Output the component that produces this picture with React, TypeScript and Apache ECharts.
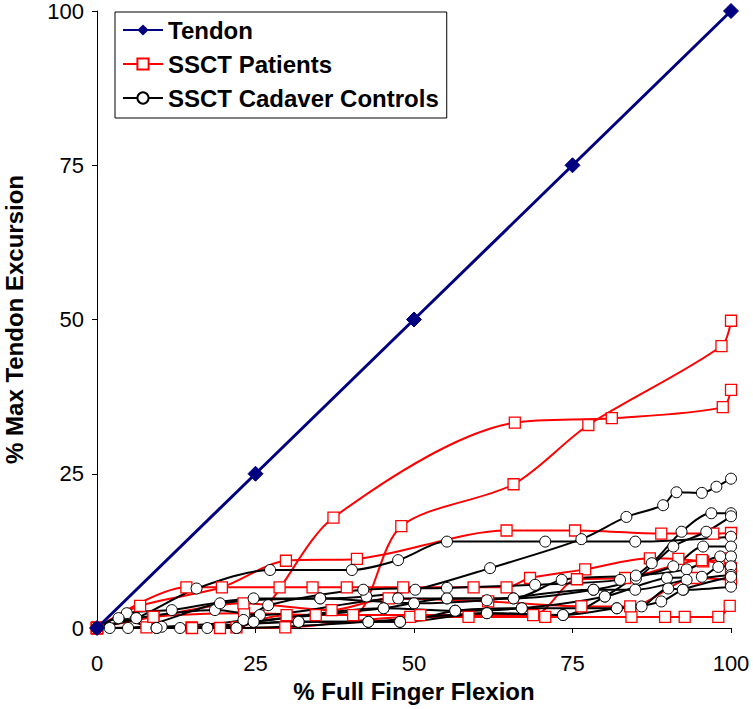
import React, { useEffect, useRef } from "react";
import * as echarts from "echarts";

const xTicks = [0, 25, 50, 75, 100];

const tendon = [[0, 0], [25, 25], [50, 50], [75, 75], [100, 100]];

const patientA = [[0, 0], [7.8, 0.1], [14.9, 0.1], [22, 0.1], [37.3, 17.9], [65.9, 33.3], [81.2, 34.0], [98.7, 35.8], [100, 38.6]];
const patientB = [[0, 0], [8.9, 1.8], [23.2, 2.4], [34.5, 2.1], [40.4, 2.1], [48, 16.5], [65.7, 23.3], [77.5, 32.9], [98.5, 45.7], [100, 49.8]];
const patientC = [[0, 0], [6.8, 3.6], [19.7, 6.6], [29.8, 10.9], [41, 11.2], [64.6, 15.8], [75.4, 15.8], [89, 15.3], [97.2, 15.3], [100, 15.4]];
const patientD = [[0, 0], [14.1, 6.6], [28.8, 6.6], [34, 6.6], [39.4, 6.6], [48.3, 6.6], [59.4, 6.6], [64.6, 6.6], [68.3, 8.1], [77, 9.5], [87.2, 11.3], [91.7, 11.2], [95.6, 10.8], [99.8, 11.3]];
const patientE = [[0, 0], [15, 0], [29.7, 0.1], [49.4, 1.8], [58.6, 1.8], [70.7, 1.8], [84.3, 1.8], [89.6, 1.8], [92.7, 1.8], [98, 1.8], [99.8, 3.6]];
const patientF = [[0, 0], [8.9, 1.8], [23.1, 4.0], [37, 2.9], [46, 4.8], [61.7, 4.3], [76.4, 3.5], [84.1, 3.5], [94.3, 8.1], [100, 7.8]];
const patientG = [[0, 0], [19.4, 0], [29.9, 2.1], [40.4, 2.1], [51, 2.1], [68.8, 2.1], [75.7, 7.9], [83.3, 8.1], [95.4, 11], [100, 9.7]];

const control1 = [[0, 0], [4.7, 2.4], [11.8, 2.9], [24.7, 4.8], [35.2, 4.8], [42.5, 5.1], [50.2, 6.2], [62, 9.7], [76.4, 14.4], [83.5, 18], [89.3, 19.9], [91.4, 22], [95.4, 21.9], [97.7, 22.9], [100, 24.2]];
const control2 = [[0, 0], [6.2, 1.6], [15.7, 6.4], [27.3, 9.4], [40.2, 9.4], [47.5, 11], [55.2, 14], [70.7, 14], [84.9, 14], [100, 14.8]];
const control3 = [[0, 0], [13.1, 0], [31.8, 1], [42.8, 1], [47.8, 1], [61.5, 2.4], [73.5, 2.1], [80.1, 5.1], [87.5, 10.5], [92.2, 15.6], [96.9, 18.6], [100, 18.6]];
const control4 = [[0, 0], [9.4, 0], [22, 0], [24.7, 1], [45.2, 3.2], [55.2, 4.8], [65.7, 4.8], [78.3, 6.2], [85, 8], [90.9, 13.2], [96.1, 15.6], [100, 18.1]];
const control5 = [[0, 0], [10.2, 0.2], [23.1, 1.3], [27, 3.7], [42, 6.2], [55.2, 6.5], [69.1, 7], [82.5, 7.8], [90.9, 10], [95.6, 13.2], [100, 13.2]];
const control6 = [[0, 0], [6.2, 1.6], [18.6, 2.9], [25.7, 2.1], [47.5, 4.8], [55.2, 4.8], [65.7, 4.8], [73.3, 7.8], [85, 8.5], [93, 9.5], [98.3, 11.6], [100, 11.6]];
const control7 = [[0, 0], [17.4, 0], [24.7, 1], [45.2, 3.2], [56.5, 2.8], [67, 3.2], [80.1, 5.1], [89.9, 8.1], [95.4, 8.3], [98, 9.9], [100, 10]];
const control8 = [[0, 0], [4.9, 0], [19.4, 4], [35.2, 4.8], [50, 4], [61.5, 4.5], [78.3, 6.2], [84.9, 6.2], [93, 7.8], [100, 8.6]];
const control9 = [[0, 0], [2, 0], [22, 0], [42.8, 1], [61.5, 2.4], [73.5, 2.1], [82, 3.2], [85.9, 3.5], [90.1, 6.4], [92.5, 6.2], [100, 6.7]];
const control10 = [[0, 0], [3.4, 1.6], [9.4, 0], [31.8, 1], [47.8, 1], [56.5, 2.8], [67, 3.2], [82, 3.2], [89, 4.3], [92.4, 6.2], [100, 8.3]];

const patients = [patientA, patientB, patientC, patientD, patientE, patientF, patientG];
const controls = [control1, control2, control3, control4, control5, control6, control7, control8, control9, control10];

const FONT = 'Arial, "Liberation Sans", sans-serif';

export default function App() {
  const ref = useRef<HTMLDivElement>(null);
  useEffect(() => {
    document.body.style.margin = "0";
    if (!ref.current) return;
    const chart = echarts.init(ref.current, null, { renderer: "svg" });
    const series: any[] = [];
    series.push({
      name: "Tendon",
      type: "line",
      data: tendon,
      symbol: "diamond",
      symbolSize: 15,
      lineStyle: { color: "#000080", width: 3 },
      itemStyle: { color: "#000080", borderColor: "#000080" },
      z: 3,
    });
    patients.forEach((p) => {
      series.push({
        name: "SSCT Patients",
        type: "line",
        data: p,
        smooth: 0.3,
        symbol: "rect",
        symbolSize: 11,
        lineStyle: { color: "#ff0000", width: 2 },
        itemStyle: { color: "#ffffff", borderColor: "#ff0000", borderWidth: 1.3 },
        z: 2,
      });
    });
    controls.forEach((c) => {
      series.push({
        name: "SSCT Cadaver Controls",
        type: "line",
        data: c,
        smooth: 0.3,
        symbol: "circle",
        symbolSize: 11,
        lineStyle: { color: "#000000", width: 2 },
        itemStyle: { color: "#ffffff", borderColor: "#000000", borderWidth: 1 },
        z: 2,
      });
    });
    chart.setOption({
      animation: false,
      textStyle: { fontFamily: FONT },
      grid: { left: 97, right: 22, top: 11, bottom: 81, containLabel: false, outerBoundsMode: "none" },
      legend: {
        data: ["Tendon", "SSCT Patients", "SSCT Cadaver Controls"],
        orient: "vertical",
        left: 115,
        top: 12,
        itemWidth: 40,
        itemHeight: 14,
        itemGap: 10,
        padding: [6, 8, 8, 7],
        borderColor: "#000000",
        borderWidth: 1,
        backgroundColor: "#ffffff",
        textStyle: { fontSize: 24, fontWeight: "bold", color: "#000", fontFamily: FONT },
      },
      xAxis: {
        type: "value",
        min: 0,
        max: 100,
        interval: 25,
        name: "% Full Finger Flexion",
        nameLocation: "middle",
        nameGap: 51,
        nameTextStyle: { fontSize: 24, fontWeight: "bold", color: "#000", fontFamily: FONT },
        axisLine: { show: true, lineStyle: { color: "#000", width: 1 } },
        axisTick: { show: true, length: 5, lineStyle: { color: "#000" } },
        axisLabel: { fontSize: 22, color: "#000", margin: 24, fontFamily: FONT, formatter: (v: number) => (xTicks.includes(v) ? String(v) : "") },
        splitLine: { show: false },
      },
      yAxis: {
        type: "value",
        min: 0,
        max: 100,
        interval: 25,
        name: "% Max Tendon Excursion",
        nameLocation: "middle",
        nameGap: 71,
        nameTextStyle: { fontSize: 24, fontWeight: "bold", color: "#000", fontFamily: FONT },
        axisLine: { show: true, lineStyle: { color: "#000", width: 1 } },
        axisTick: { show: true, length: 5, lineStyle: { color: "#000" } },
        axisLabel: { fontSize: 22, color: "#000", margin: 13, fontFamily: FONT },
        splitLine: { show: false },
      },
      series,
    });
    return () => chart.dispose();
  }, []);
  return <div ref={ref} style={{ width: 753, height: 709 }} />;
}
